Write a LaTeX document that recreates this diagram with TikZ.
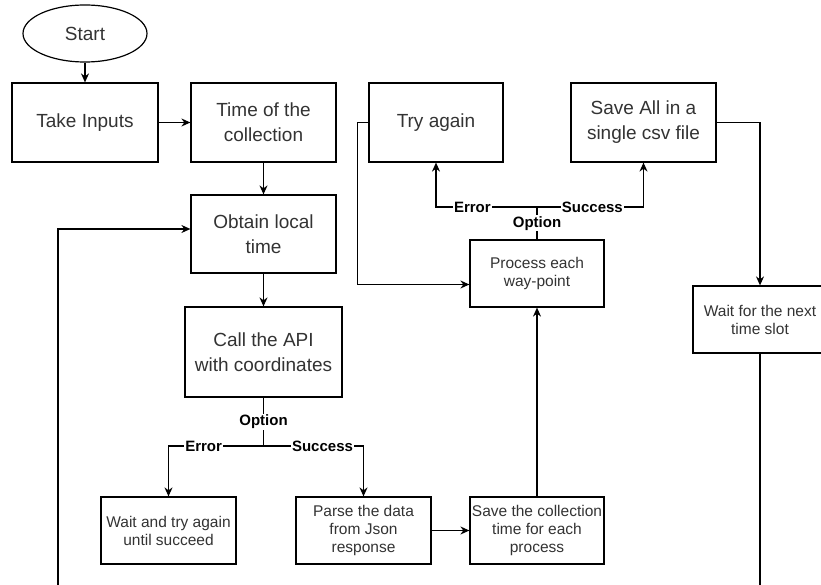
\documentclass[tikz,border=0pt]{standalone}
\usepackage{fontspec}
\setmainfont{Liberation Sans}
\usetikzlibrary{arrows.meta,shapes.geometric,calc}
\definecolor{txt}{rgb}{0.2,0.2,0.2}
\tikzset{
  box/.style={draw, line width=1.2pt, text=txt, align=center, inner sep=0pt},
  bigbox/.style={box, font=\fontsize{19}{25}\selectfont},
  smallbox/.style={box, font=\fontsize{15.5}{18}\selectfont},
  arr/.style={line width=1.2pt, -{Stealth[length=9pt,width=8pt]}},
  ln/.style={line width=1.2pt},
  lbl/.style={fill=white, inner sep=1pt, font=\bfseries\fontsize{15}{16}\selectfont, text=black}
}
\begin{document}
\begin{tikzpicture}[x=1pt,y=-1pt]
\useasboundingbox (0,0) rectangle (821,585);
\clip (0,0) rectangle (821,585);
\fill[white] (0,0) rectangle (821,585);

\node[bigbox, ellipse, minimum width=124pt, minimum height=57pt] (start) at (85,33.5) {Start};
\node[bigbox, minimum width=146pt, minimum height=79pt] (take) at (85,122.5) {Take Inputs};
\node[bigbox, minimum width=145pt, minimum height=79pt] (time) at (263.5,122.5) {Time of the\\collection};
\node[bigbox, minimum width=145pt, minimum height=78pt] (obtain) at (263.5,234) {Obtain local\\time};
\node[bigbox, minimum width=157pt, minimum height=90pt] (api) at (263.5,352) {Call the API\\with coordinates};
\node[smallbox, minimum width=135pt, minimum height=67pt] (waitT) at (168.5,530.5) {Wait and try again\\until succeed};
\node[smallbox, minimum width=135pt, minimum height=67pt] (parse) at (363.5,530.5) {Parse the data\\from Json\\response};
\node[smallbox, minimum width=134pt, minimum height=67pt] (savet) at (537,530.5) {Save the collection\\time for each\\process};
\node[smallbox, minimum width=134pt, minimum height=67pt] (proc) at (537,273.5) {Process each\\way-point};
\node[bigbox, minimum width=134pt, minimum height=79pt] (try) at (436,122.5) {Try again};
\node[bigbox, minimum width=145pt, minimum height=79pt] (saveall) at (643.5,122.5) {Save All in a\\single csv file};
\node[smallbox, minimum width=134pt, minimum height=67pt] (next) at (760,319.5) {Wait for the next\\time slot};

\coordinate (s1) at (263.5,446);
\coordinate (s2) at (537,207);
\coordinate (loopL) at (58,600);
\coordinate (loopR) at (760,600);

\draw[arr] (start) -- (take);
\draw[arr] (take) -- (time);
\draw[arr] (time) -- (obtain);
\draw[arr] (obtain) -- (api);
\draw[ln] (api.south) -- node[lbl]{Option} (s1);
\draw[arr] (s1) -- node[lbl, pos=0.63]{Error} (s1 -| waitT.north) -- (waitT.north);
\draw[arr] (s1) -- node[lbl, pos=0.59]{Success} (s1 -| parse.north) -- (parse.north);
\draw[arr] (parse) -- (savet);
\draw[arr] (savet) -- (proc);
\draw[ln] (proc.north) -- node[lbl]{Option} (s2);
\draw[arr] (s2) -- node[lbl, pos=0.64]{Error} (s2 -| try.south) -- (try.south);
\draw[arr] (s2) -- node[lbl, pos=0.52]{Success} (s2 -| saveall.south) -- (saveall.south);
\draw[arr] (try.west) -- ++(-11,0) |- ([yshift=-11pt]proc.west);
\draw[arr] (saveall.east) -| (next.north);
\draw[ln] (next.south) -- (loopR);
\draw[arr] (loopL) |- ([yshift=5pt]obtain.west);
\end{tikzpicture}
\end{document}
